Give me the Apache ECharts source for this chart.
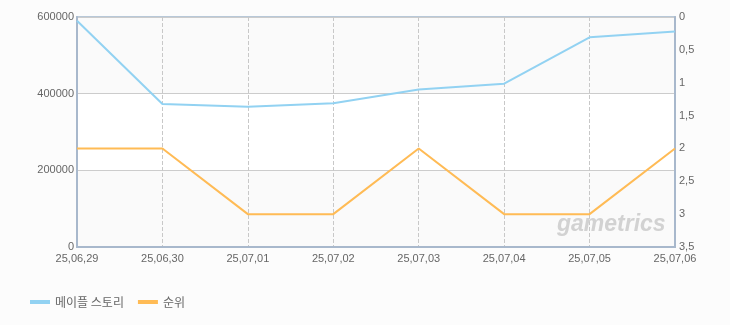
<!DOCTYPE html>
<html><head><meta charset="utf-8">
<script src="https://cdn.jsdelivr.net/npm/echarts@6/dist/echarts.min.js"></script>
<style>html,body{margin:0;padding:0;background:#fcfcfc;}#c{width:730px;height:325px;}</style>
</head><body><div id="c"></div>
<script>
const categories = ['25,06,29','25,06,30','25,07,01','25,07,02','25,07,03','25,07,04','25,07,05','25,07,06'];
const players = [590000, 373000, 366000, 375000, 411000, 426000, 547000, 562000];
const rank = [2, 2, 3, 3, 2, 3, 3, 2];
const chart = echarts.init(document.getElementById('c'));
const font = '"Noto Sans CJK KR", "Noto Sans", sans-serif';
const numFont = '"Liberation Sans", Arial, sans-serif';
chart.setOption({
  backgroundColor: '#fcfcfc',
  animation: false,
  textStyle: { fontFamily: font },
  grid: { left: 77, right: 55, top: 17, bottom: 78, show: true, borderColor: '#b8c8d8', borderWidth: 2, backgroundColor: 'transparent' },
  legend: {
    left: 25, bottom: 12, itemWidth: 20, itemHeight: 4, itemGap: 14, icon: 'rect',
    textStyle: { color: '#666', fontSize: 12, fontFamily: font },
    data: ['메이플 스토리', '순위']
  },
  graphic: [{
    type: 'text', left: 557, top: 213, z: 1,
    style: { text: 'gametrics', fontSize: 23, fontStyle: 'italic', fontWeight: 'bold', fontFamily: numFont, fill: '#d2d2d2' }
  }],
  xAxis: {
    type: 'category', data: categories, boundaryGap: false,
    axisLine: { lineStyle: { color: '#a8b8cc', width: 2 } },
    axisTick: { show: false },
    axisLabel: { color: '#666', fontSize: 11, margin: 6, fontFamily: numFont },
    splitLine: { show: true, lineStyle: { color: '#c8c8c8', type: 'dashed', width: 1 } }
  },
  yAxis: [{
    type: 'value', min: 0, max: 600000, interval: 200000,
    axisLine: { show: true, lineStyle: { color: '#a8b8cc', width: 2 } },
    axisTick: { show: false },
    axisLabel: { color: '#666', fontSize: 11, margin: 3, fontFamily: numFont, formatter: v => String(v) },
    splitLine: { lineStyle: { color: '#cccccc', width: 1 } },
    splitArea: { show: true, areaStyle: { color: ['#fafafa', '#ffffff'] } }
  }, {
    type: 'value', min: 0, max: 3.5, interval: 0.5, inverse: true,
    axisLine: { show: true, lineStyle: { color: '#a8b8cc', width: 2 } },
    axisTick: { show: false },
    axisLabel: { color: '#666', fontSize: 11, margin: 4, fontFamily: numFont,
      formatter: v => String(v).replace('.', ',') },
    splitLine: { show: false }
  }],
  series: [{
    name: '메이플 스토리', type: 'line', data: players, yAxisIndex: 0,
    symbol: 'none', itemStyle: { color: '#92d2f2' }, lineStyle: { color: '#92d2f2', width: 2 }
  }, {
    name: '순위', type: 'line', data: rank, yAxisIndex: 1,
    symbol: 'none', itemStyle: { color: '#ffbb55' }, lineStyle: { color: '#ffbb55', width: 2 }
  }]
});
</script></body></html>
